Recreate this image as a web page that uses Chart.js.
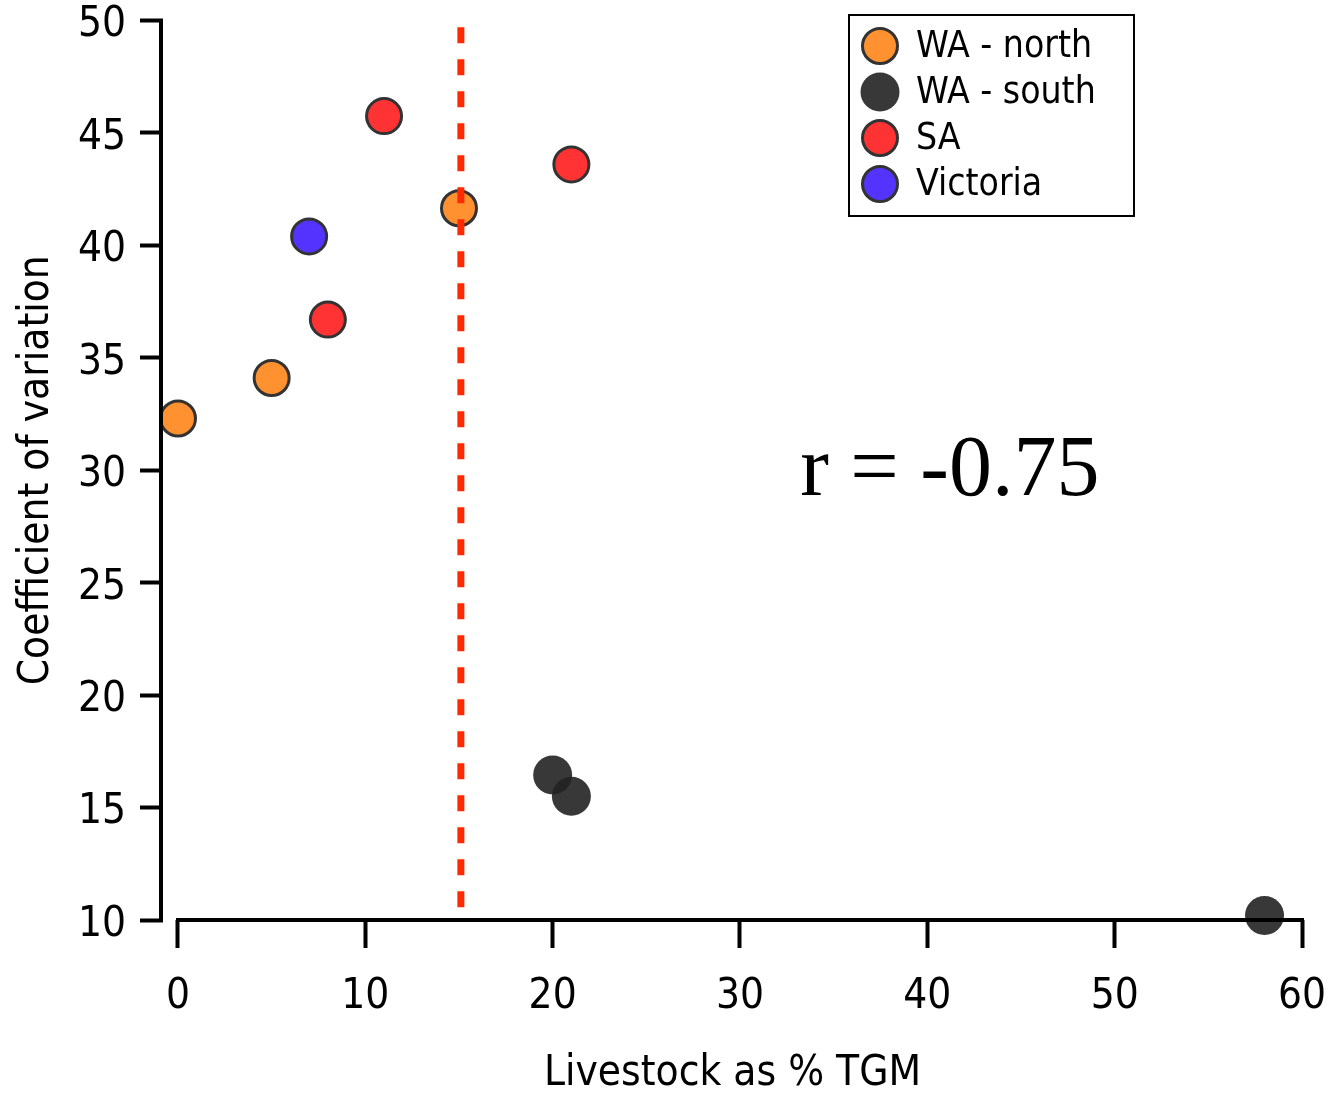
<!DOCTYPE html>
<html>
<head>
<meta charset="utf-8">
<script src="https://cdn.jsdelivr.net/npm/chart.js@4.4.1/dist/chart.umd.min.js"></script>
<style>
  html, body { margin: 0; padding: 0; background: #fff; }
  #wrap { width: 1339px; height: 1096px; }
</style>
</head>
<body>
<div id="wrap"><canvas id="cvChart" width="1339" height="1096"></canvas></div>
<script>
// data
const seriesNames = ["WA - north", "WA - south", "SA", "Victoria"];
const waNorthX = [0, 5, 15];
const waNorthY = [32.3, 34.1, 41.65];
const waSouthX = [20, 21, 58];
const waSouthY = [16.45, 15.5, 10.2];
const saX = [11, 21, 8];
const saY = [45.75, 43.6, 36.7];
const vicX = [7];
const vicY = [40.4];
const cutoffX = [15.1, 15.1];
const cutoffY = [49.7, 10.5];
const yTicks = [10, 15, 20, 25, 30, 35, 40, 45, 50];
const xTicks = [0, 10, 20, 30, 40, 50, 60];
const corrText = "r = -0.75";

const sansFont = '"DejaVu Sans Condensed", "DejaVu Sans", sans-serif';

function toPoints(xs, ys) {
    return xs.map((x, i) => ({ x: x, y: ys[i] }));
}

function pointSet(label, xs, ys, fill, border, bw) {
    return {
        type: "scatter",
        label: label,
        data: toPoints(xs, ys),
        backgroundColor: fill,
        borderColor: border,
        borderWidth: bw,
        pointRadius: bw ? 17.5 : 19.5,
        pointHoverRadius: bw ? 17.5 : 19.5,
        clip: false,
        order: 1
    };
}

const datasets = [
    {
        type: "line",
        label: "cutoff",
        data: toPoints(cutoffX, cutoffY),
        borderColor: "#ff2a00",
        borderWidth: 7,
        borderDash: [16, 16],
        borderCapStyle: "butt",
        pointRadius: 0,
        fill: false,
        clip: false,
        order: 0
    },
    pointSet(seriesNames[0], waNorthX, waNorthY, "#ff9130", "#333333", 3),
    pointSet(seriesNames[1], waSouthX, waSouthY, "rgba(34,34,34,0.9)", "rgba(0,0,0,0)", 0),
    pointSet(seriesNames[2], saX, saY, "#ff3333", "#333333", 3),
    pointSet(seriesNames[3], vicX, vicY, "#5533ff", "#333333", 3)
];

// axis lines, legend box and r label
const decorPlugin = {
    id: "decor",
    afterDatasetsDraw(chart) {
        const ctx = chart.ctx;
        const xs = chart.scales.x;
        const ys = chart.scales.y;
        const left = chart.chartArea.left;
        ctx.save();
        ctx.strokeStyle = "#000";
        ctx.lineWidth = 4;
        ctx.lineCap = "butt";
        ctx.beginPath();
        ctx.moveTo(left - 2, ys.getPixelForValue(50));
        ctx.lineTo(left - 2, ys.getPixelForValue(10) + 2);
        ctx.moveTo(xs.getPixelForValue(0) - 2, ys.getPixelForValue(10));
        ctx.lineTo(xs.getPixelForValue(60) + 2, ys.getPixelForValue(10));
        ctx.stroke();

        // legend
        ctx.lineWidth = 2;
        ctx.strokeRect(849, 15, 285, 201);
        ctx.font = "37px " + sansFont;
        ctx.textBaseline = "middle";
        ctx.textAlign = "left";
        chart.data.datasets.slice(1).forEach((ds, i) => {
            const cy = 46 + i * 46;
            ctx.beginPath();
            ctx.arc(880, cy, ds.borderWidth ? 17.5 : 19.5, 0, Math.PI * 2);
            ctx.fillStyle = ds.backgroundColor;
            ctx.fill();
            if (ds.borderWidth) {
                ctx.lineWidth = ds.borderWidth;
                ctx.strokeStyle = ds.borderColor;
                ctx.stroke();
            }
            ctx.fillStyle = "#000";
            ctx.fillText(ds.label, 916, cy + 1);
        });

        ctx.font = '86px "Liberation Serif", "Times New Roman", serif';
        ctx.textAlign = "center";
        ctx.fillText(corrText, xs.getPixelForValue(41.2), ys.getPixelForValue(29.9));
        ctx.restore();
    }
};

new Chart(document.getElementById("cvChart"), {
    data: { datasets: datasets },
    options: {
        responsive: false,
        animation: false,
        layout: { padding: { top: 20, right: 37, left: 0, bottom: 0 } },
        plugins: {
            legend: { display: false },
            tooltip: { enabled: false }
        },
        scales: {
            x: {
                type: "linear",
                min: -0.8,
                max: 60,
                afterBuildTicks: s => { s.ticks = xTicks.map(v => ({ value: v })); },
                afterFit: s => {
                    s.height = 176;
                    s.paddingLeft = 0;
                    s.paddingRight = 0;
                },
                border: { display: false },
                grid: {
                    drawOnChartArea: false,
                    drawTicks: true,
                    tickLength: 28,
                    tickWidth: 4,
                    tickColor: "#000"
                },
                ticks: {
                    padding: 24,
                    color: "#000",
                    font: { family: sansFont, size: 42 },
                    maxRotation: 0
                },
                title: {
                    display: true,
                    text: "Livestock as % TGM",
                    color: "#000",
                    font: { family: sansFont, size: 42, lineHeight: 1.0 },
                    padding: { top: 0, bottom: 1 }
                }
            },
            y: {
                type: "linear",
                min: 10,
                max: 50,
                afterBuildTicks: s => { s.ticks = yTicks.map(v => ({ value: v })); },
                afterFit: s => {
                    s.width = 163;
                    s.paddingTop = 0;
                    s.paddingBottom = 0;
                },
                border: { display: false },
                grid: {
                    drawOnChartArea: false,
                    drawTicks: true,
                    tickLength: 23,
                    tickWidth: 4,
                    tickColor: "#000"
                },
                ticks: {
                    padding: 14,
                    labelOffset: 5,
                    color: "#000",
                    font: { family: sansFont, size: 42 }
                },
                title: {
                    display: true,
                    text: "Coefficient of variation",
                    color: "#000",
                    font: { family: sansFont, size: 42 },
                    padding: { top: 12, bottom: 0 }
                }
            }
        }
    },
    plugins: [decorPlugin]
});
</script>
</body>
</html>
